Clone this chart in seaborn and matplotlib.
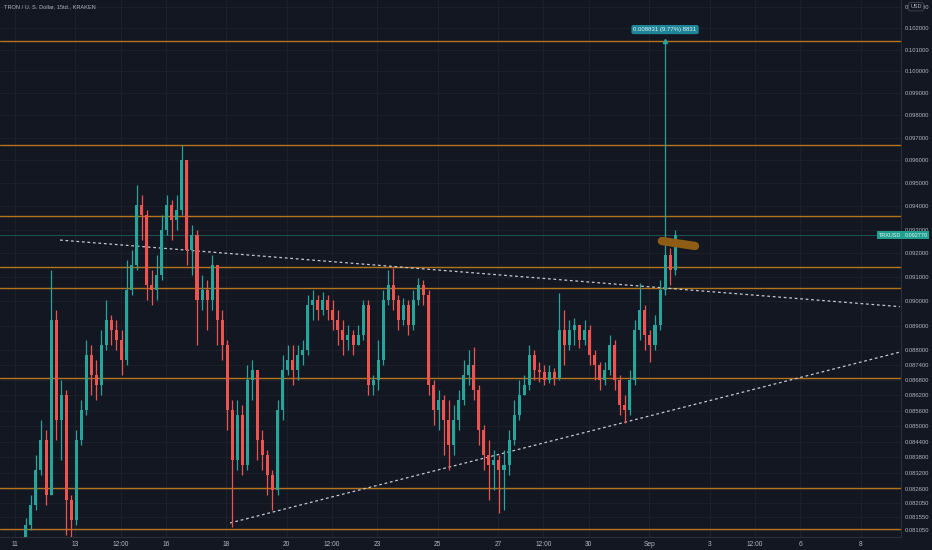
import numpy as np
import pandas as pd
import matplotlib
matplotlib.use("Agg")
import matplotlib.pyplot as plt
import matplotlib.transforms as mtransforms
from matplotlib.ticker import NullLocator, FixedLocator
import seaborn as sns

# candles (TRX/USD, Kraken)
first_open = 0.08079
closes = [
    0.08123, 0.08198, 0.08330, 0.08446, 0.08236, 0.08923, 0.08523, 0.08622, 0.08217, 0.08142,
    0.08446, 0.08563, 0.08781, 0.08701, 0.08661, 0.08821, 0.08923, 0.08882, 0.08842, 0.08761,
    0.09046, 0.09151, 0.09406, 0.09363, 0.09067, 0.09046, 0.09109, 0.09299, 0.09406, 0.09341,
    0.09384, 0.09601, 0.09214, 0.09277, 0.09005, 0.09046, 0.09005, 0.09151, 0.08923, 0.08821,
    0.08563, 0.08369, 0.08543, 0.08350, 0.08681, 0.08721, 0.08446, 0.08388, 0.08311, 0.08255,
    0.08563, 0.08721, 0.08761, 0.08721, 0.08781, 0.08801, 0.08985, 0.09005, 0.08964, 0.09005,
    0.08964, 0.08923, 0.08882, 0.08842, 0.08862, 0.08821, 0.08862, 0.08985, 0.08661, 0.08681,
    0.08761, 0.09005, 0.09067, 0.09005, 0.08923, 0.08985, 0.08903, 0.09005, 0.09067, 0.09026,
    0.08661, 0.08563, 0.08602, 0.08523, 0.08426, 0.08523, 0.08602, 0.08701, 0.08741, 0.08641,
    0.08485, 0.08388, 0.08350, 0.08369, 0.08330, 0.08350, 0.08446, 0.08543, 0.08622, 0.08661,
    0.08781, 0.08721, 0.08713, 0.08681, 0.08713, 0.08689, 0.08882, 0.08821, 0.08882, 0.08903,
    0.08842, 0.08882, 0.08781, 0.08741, 0.08681, 0.08721, 0.08821, 0.08681, 0.08582, 0.08563,
    0.08681, 0.08882, 0.08964, 0.08862, 0.08821, 0.08903, 0.09046, 0.09193, 0.09130, 0.09277,
]
highs = [
    0.08150, 0.08236, 0.08388, 0.08523, 0.08485, 0.09130, 0.08964, 0.08681, 0.08641, 0.08236,
    0.08485, 0.08602, 0.08842, 0.08821, 0.08761, 0.08882, 0.09005, 0.08943, 0.08923, 0.08882,
    0.09172, 0.09214, 0.09492, 0.09449, 0.09384, 0.09130, 0.09193, 0.09363, 0.09449, 0.09427,
    0.09449, 0.09667, 0.09601, 0.09320, 0.09299, 0.09109, 0.09088, 0.09193, 0.09151, 0.08964,
    0.08842, 0.08602, 0.08602, 0.08582, 0.08741, 0.08761, 0.08721, 0.08485, 0.08407, 0.08330,
    0.08602, 0.08781, 0.08821, 0.08821, 0.08821, 0.08842, 0.09026, 0.09046, 0.09026, 0.09038,
    0.09026, 0.09005, 0.08964, 0.08923, 0.08903, 0.08882, 0.08903, 0.09005, 0.09005, 0.08701,
    0.08842, 0.09046, 0.09130, 0.09138, 0.09026, 0.09013, 0.09005, 0.09046, 0.09096, 0.09088,
    0.09046, 0.08681, 0.08641, 0.08622, 0.08602, 0.08582, 0.08641, 0.08761, 0.08801, 0.08813,
    0.08661, 0.08504, 0.08446, 0.08407, 0.08388, 0.08407, 0.08485, 0.08602, 0.08681, 0.08701,
    0.08821, 0.08801, 0.08753, 0.08741, 0.08741, 0.08729, 0.09034, 0.08964, 0.08923, 0.08931,
    0.08903, 0.08923, 0.08903, 0.08801, 0.08753, 0.08753, 0.08862, 0.08842, 0.08701, 0.08622,
    0.08721, 0.08923, 0.09075, 0.08985, 0.08882, 0.08943, 0.09088, 0.10139, 0.09222, 0.09299,
]
lows = [
    0.08075, 0.08105, 0.08179, 0.08311, 0.08198, 0.08236, 0.08446, 0.08369, 0.08086, 0.08068,
    0.08123, 0.08426, 0.08543, 0.08622, 0.08602, 0.08622, 0.08801, 0.08821, 0.08801, 0.08701,
    0.08741, 0.09026, 0.09130, 0.09256, 0.09005, 0.08985, 0.09005, 0.09088, 0.09277, 0.09256,
    0.09299, 0.09363, 0.09151, 0.09109, 0.08821, 0.08964, 0.08882, 0.08964, 0.08821, 0.08761,
    0.08485, 0.08116, 0.08330, 0.08311, 0.08330, 0.08602, 0.08369, 0.08330, 0.08236, 0.08179,
    0.08236, 0.08523, 0.08701, 0.08661, 0.08681, 0.08741, 0.08781, 0.08923, 0.08923, 0.08943,
    0.08923, 0.08882, 0.08821, 0.08781, 0.08801, 0.08781, 0.08821, 0.08842, 0.08622, 0.08622,
    0.08641, 0.08741, 0.08985, 0.08964, 0.08882, 0.08903, 0.08862, 0.08882, 0.08985, 0.08985,
    0.08622, 0.08504, 0.08485, 0.08388, 0.08330, 0.08388, 0.08485, 0.08582, 0.08661, 0.08602,
    0.08426, 0.08330, 0.08217, 0.08255, 0.08168, 0.08179, 0.08311, 0.08426, 0.08523, 0.08622,
    0.08641, 0.08681, 0.08673, 0.08661, 0.08669, 0.08661, 0.08681, 0.08741, 0.08801, 0.08821,
    0.08809, 0.08821, 0.08741, 0.08681, 0.08641, 0.08661, 0.08701, 0.08641, 0.08543, 0.08512,
    0.08543, 0.08661, 0.08842, 0.08801, 0.08753, 0.08801, 0.08882, 0.09026, 0.09067, 0.09109,
]
start_day = 11.36     # day-of-month of first bar (Aug)
bars_per_day = 6

# drawings
levels = [0.10139, 0.09667, 0.09359, 0.09142, 0.09055, 0.08689, 0.08264, 0.08108]
res_days = [12.49, 40.3]
res_prices = [0.09256, 0.08978]
sup_days = [18.12, 40.3]
sup_prices = [0.08131, 0.08793]
mark_days = [32.42, 33.52]
mark_prices = [0.09252, 0.09231]

ytick_vals = [0.103, 0.102, 0.101, 0.100, 0.099, 0.098, 0.097, 0.096, 0.095, 0.094, 0.093,
              0.092, 0.091, 0.090, 0.089, 0.088, 0.0874, 0.0868, 0.0862, 0.0856, 0.0850,
              0.0844, 0.0838, 0.0832, 0.0826, 0.08205, 0.08155, 0.08105]
xtick_vals = [11, 13, 14.5, 16, 18, 20, 21.5, 23, 25, 27, 28.5, 30, 32, 34, 35.5, 37, 39]
xtick_labels = ['11', '13', '12:00', '16', '18', '20', '12:00', '23', '25', '27', '12:00',
                '30', 'Sep', '3', '12:00', '6', '8']

bg = '#131722'
txt = '#b2b5be'
up = '#26a69a'
down = '#ef5350'
orange = '#b5741c'

df = pd.DataFrame({'close': closes, 'high': highs, 'low': lows})
df['open'] = [first_open] + closes[:-1]
df['t'] = start_day + np.arange(len(df)) / bars_per_day
df['high'] = df[['high', 'open', 'close']].max(axis=1)
df['low'] = df[['low', 'open', 'close']].min(axis=1)
df['up'] = df['close'] >= df['open']

sns.set_theme(style="darkgrid", rc={
    "axes.facecolor": bg, "figure.facecolor": bg, "grid.color": "#1e222d",
    "axes.edgecolor": "#2a2e39", "text.color": txt,
    "xtick.color": txt, "ytick.color": txt,
})
plt.rcParams['font.family'] = ['Liberation Sans Narrow', 'Liberation Sans', 'DejaVu Sans']

fig = plt.figure(figsize=(9.32, 5.5), dpi=100)
ax = fig.add_axes([0, 13 / 550, 901 / 932, 537 / 550])
ax.set_yscale('log')
ax.set_xlim(10.503, 40.34)
ax.set_ylim(0.080789, 0.10332)

ax.grid(True, color='#1c202b', lw=0.8)
ax.set_axisbelow(True)

# horizontal levels
for lv in levels:
    ax.axhline(lv, color=orange, lw=1.0, zorder=2)

# trend lines
sns.lineplot(x=res_days, y=res_prices, ax=ax, color='#c5c8d0', lw=0.9,
             linestyle=(0, (2.2, 2.2)), zorder=3)
sns.lineplot(x=sup_days, y=sup_prices, ax=ax, color='#c5c8d0', lw=0.9,
             linestyle=(0, (2.2, 2.2)), zorder=3)

# candles
cols = np.where(df['up'], up, down)
ax.vlines(df['t'], df['low'], df['high'], colors=cols, lw=0.9, zorder=4)
body_lo = df[['open', 'close']].min(axis=1)
body_h = (df['close'] - df['open']).abs().clip(lower=0.00004)
ax.bar(df['t'], body_h, bottom=body_lo, width=0.1, color=cols, lw=0, zorder=5)

# last price line
last = df['close'].iloc[-1]
ax.axhline(last, color=up, lw=0.6, alpha=0.5, zorder=2)

# brush mark
ax.plot(mark_days, mark_prices, color='#8f5c15', lw=6, solid_capstyle='round', zorder=6)

# spike label
spike = df.loc[df['high'].idxmax()]
ax.plot(spike['t'], spike['high'], marker='^', ms=3, color=up, zorder=6)
ax.text(spike['t'], 0.10193, "0.008831 (9.77%) 8831", ha='center', va='center',
        fontsize=4.3, color='#e6f4f5', zorder=7,
        bbox=dict(boxstyle='round,pad=0.35', fc='#1e8497', ec='none'))

ax.text(0.004, 0.987, "TRON / U. S. Dollar, 15td., KRAKEN", transform=ax.transAxes,
        ha='left', va='center', fontsize=4.1, color=txt)

# axes
ax.yaxis.tick_right()
ax.yaxis.set_major_locator(FixedLocator(ytick_vals))
ax.yaxis.set_minor_locator(NullLocator())
ax.set_yticklabels([f"{v:.6f}" for v in ytick_vals])
ax.set_xticks(xtick_vals)
ax.set_xticklabels(xtick_labels)
ax.tick_params(axis='y', labelsize=4.2, length=0, pad=3, labelcolor=txt)
ax.tick_params(axis='x', labelsize=4.8, length=0, pad=3, labelcolor=txt)
ax.set_xlabel('')
ax.set_ylabel('')
for s in ['top', 'left']:
    ax.spines[s].set_visible(False)
for s in ['right', 'bottom']:
    ax.spines[s].set_color('#2a2e39')
    ax.spines[s].set_linewidth(0.8)

# price tags on the right
trans = mtransforms.blended_transform_factory(ax.transAxes, ax.transData)
ax.text(0.9875, last, "TRXUSD", transform=trans, ha='center', va='center', fontsize=4.0,
        color='#e6f4f5', zorder=8, clip_on=False,
        bbox=dict(boxstyle='square,pad=0.3', fc='#1fa08f', ec='none'))
ax.text(1.0166, last, f"{last:.6f}", transform=trans, ha='center', va='center', fontsize=4.0,
        color='#e6f4f5', zorder=8, clip_on=False,
        bbox=dict(boxstyle='square,pad=0.3', fc='#1fa08f', ec='none'))
ax.text(1.0166, 0.103, "USD", transform=trans, ha='center', va='center', fontsize=4.0,
        color=txt, zorder=8, clip_on=False,
        bbox=dict(boxstyle='round,pad=0.3', fc=bg, ec='#434651', lw=0.6))

fig.savefig('out.png', dpi=100, facecolor=bg)
